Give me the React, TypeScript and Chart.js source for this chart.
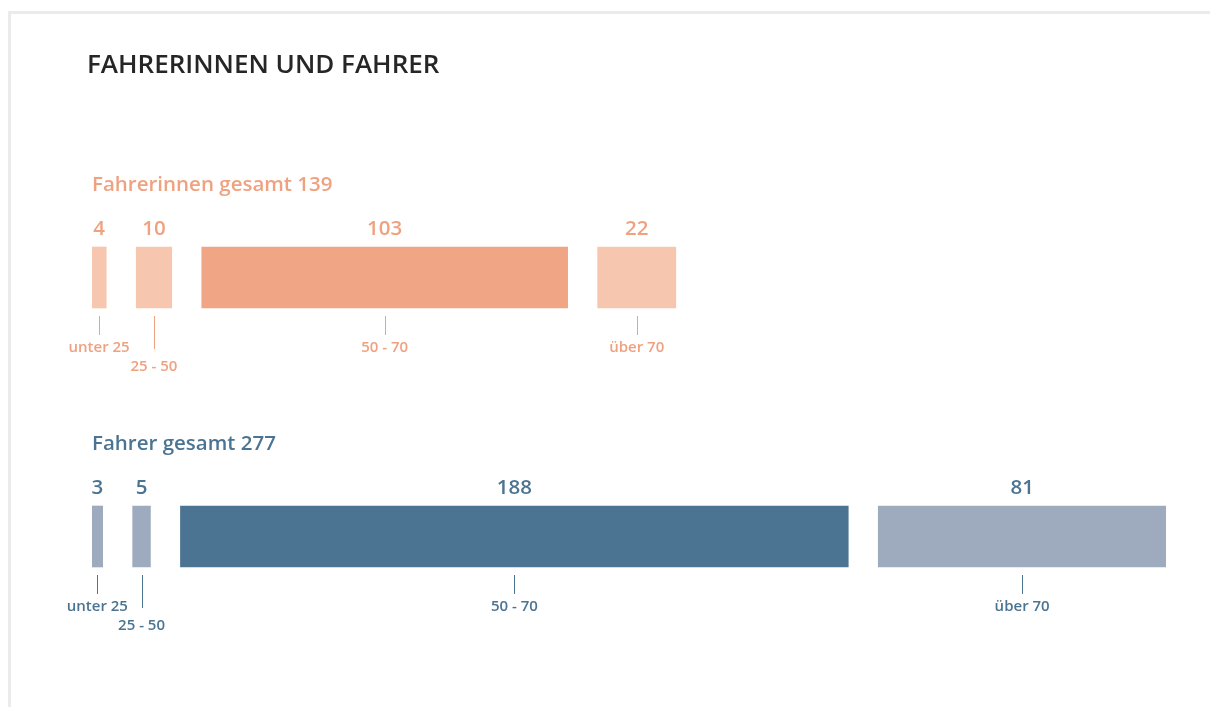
import React, { useEffect, useRef } from 'react';
import { Chart, registerables } from 'chart.js';

Chart.register(...registerables);

const TITLE = 'FAHRERINNEN UND FAHRER';
const ROWS = ['Fahrerinnen', 'Fahrer'];
const ROW_TOTAL_LABELS = ['Fahrerinnen gesamt 139', 'Fahrer gesamt 277'];
const AGE_GROUPS = ['unter 25', '25 - 50', '50 - 70', 'über 70'];
const FAHRERINNEN = [4, 10, 103, 22];
const FAHRER = [3, 5, 188, 81];
const GAP = 8.45; // gap between segments, in value units

const COLORS_F = ['#f6c6ae', '#f6c6ae', '#f0a585', '#f6c6ae'];
const COLORS_M = ['#9eabbe', '#9eabbe', '#4a7491', '#9eabbe'];
const TEXT_COLORS = ['#efa280', '#4a7491'];
const FONT = "'Open Sans', 'Noto Sans', sans-serif";

const SERIES = [FAHRERINNEN, FAHRER];

function ranges(values: number[]): [number, number][] {
  const out: [number, number][] = [];
  let s = 0;
  values.forEach((v) => {
    out.push([s, s + v]);
    s += v + GAP;
  });
  return out;
}

const labelPlugin = {
  id: 'labels',
  afterDatasetsDraw(chart: any) {
    const ctx = chart.ctx as CanvasRenderingContext2D;
    ctx.save();
    ctx.textBaseline = 'middle';
    // main title
    ctx.fillStyle = '#262626';
    ctx.font = `600 26px ${FONT}`;
    ctx.textAlign = 'left';
    ctx.fillText(TITLE, 87, 66);

    ROWS.forEach((_, r) => {
      const color = TEXT_COLORS[r];
      const first = chart.getDatasetMeta(0).data[r];
      const top = first.y - first.height / 2;
      const bottom = first.y + first.height / 2;
      // subtitle
      ctx.fillStyle = color;
      ctx.textAlign = 'left';
      ctx.font = `600 20.5px ${FONT}`;
      ctx.fillText(ROW_TOTAL_LABELS[r], chart.chartArea.left, top - 62);

      let prevRight = -Infinity;
      AGE_GROUPS.forEach((age, i) => {
        const el = chart.getDatasetMeta(i).data[r];
        const cx = (el.x + el.base) / 2;
        const value = SERIES[r][i];
        // value label
        ctx.fillStyle = color;
        ctx.textAlign = 'center';
        ctx.font = `600 20.5px ${FONT}`;
        ctx.fillText(String(value), cx, top - 18);
        // tick + age label
        ctx.font = `600 15px ${FONT}`;
        const w = ctx.measureText(age).width;
        const stagger = cx - w / 2 < prevRight + 6;
        const tickEnd = bottom + (stagger ? 41 : 27);
        const labelY = bottom + (stagger ? 59 : 40);
        ctx.strokeStyle = color;
        ctx.lineWidth = 1;
        ctx.beginPath();
        ctx.moveTo(Math.round(cx) + 0.5, bottom + 8);
        ctx.lineTo(Math.round(cx) + 0.5, tickEnd);
        ctx.stroke();
        ctx.fillText(age, cx, labelY);
        if (!stagger) prevRight = cx + w / 2;
      });
    });
    ctx.restore();
  },
};

export default function App() {
  const canvasRef = useRef<HTMLCanvasElement | null>(null);

  useEffect(() => {
    if (!canvasRef.current) return;
    const rf = ranges(FAHRERINNEN);
    const rm = ranges(FAHRER);
    const maxTotal = Math.max(
      FAHRERINNEN.reduce((a, b) => a + b, 0),
      FAHRER.reduce((a, b) => a + b, 0)
    ) + GAP * (AGE_GROUPS.length - 1);

    const chart = new Chart(canvasRef.current, {
      type: 'bar',
      data: {
        labels: ROWS,
        datasets: AGE_GROUPS.map((age, i) => ({
          label: age,
          data: [rf[i], rm[i]] as any,
          backgroundColor: [COLORS_F[i], COLORS_M[i]],
          borderWidth: 0,
          barThickness: 61,
          grouped: false,
        })),
      },
      options: {
        indexAxis: 'y',
        responsive: false,
        animation: false,
        layout: { padding: { left: 92, right: 44, top: 148, bottom: 41 } },
        scales: {
          x: { type: 'linear', min: 0, max: maxTotal, display: false },
          y: { type: 'category', display: false, offset: true },
        },
        plugins: {
          legend: { display: false },
          tooltip: { enabled: false },
          title: { display: false },
        },
      },
      plugins: [labelPlugin],
    });
    return () => chart.destroy();
  }, []);

  return (
    <div style={{ position: 'absolute', left: 0, top: 0, width: 1210, height: 707, background: '#fff', overflow: 'hidden' }}>
      <div
        style={{
          position: 'absolute',
          left: 8,
          top: 11,
          width: 1400,
          height: 900,
          borderLeft: '3px solid #ebebeb',
          borderTop: '3px solid #ebebeb',
        }}
      />
      <canvas ref={canvasRef} width={1210} height={707} style={{ position: 'absolute', left: 0, top: 0 }} />
    </div>
  );
}
